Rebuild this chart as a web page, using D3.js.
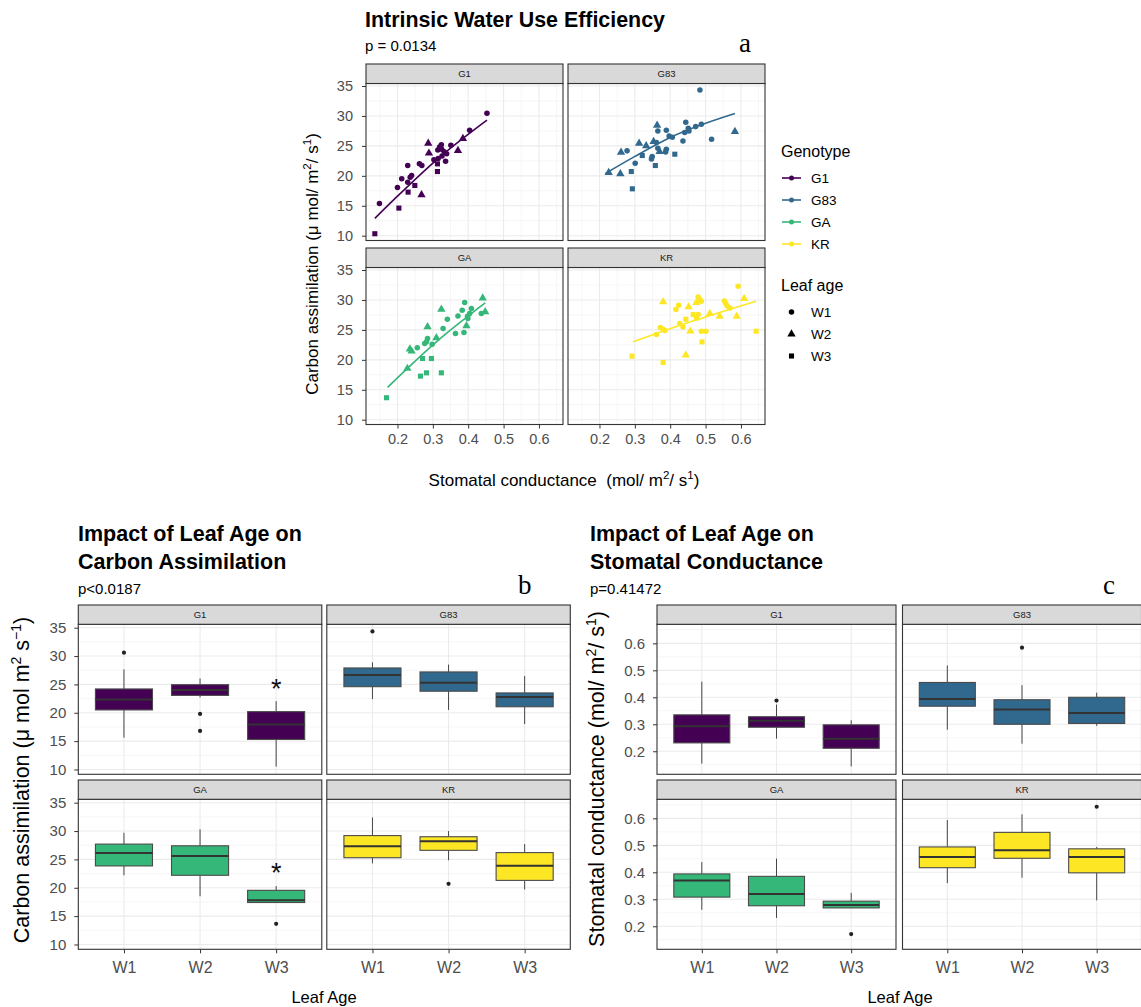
<!DOCTYPE html>
<html>
<head>
<meta charset="utf-8">
<script src="https://cdn.jsdelivr.net/npm/d3@7"></script>
<style>
  body { margin: 0; background: #fff; }
  text { font-family: "Liberation Sans", Arial, sans-serif; }
</style>
</head>
<body>
<script>
// ---- data ----
const genotypes = ["G1", "G83", "GA", "KR"];
const genoColors = ["#440154", "#31688E", "#35B779", "#FDE725"];
const leafAges = ["W1", "W2", "W3"];

// panel a : [stomatal conductance, carbon assimilation, leaf age]
const scatterG1 = [
  [0.453, 30.44, "W1"], [0.404, 27.61, "W1"], [0.351, 25.11, "W1"], [0.324, 25.17, "W1"],
  [0.319, 24.83, "W1"], [0.314, 24.33, "W1"], [0.325, 24.44, "W1"], [0.332, 24.0, "W1"],
  [0.339, 23.67, "W1"], [0.326, 23.33, "W1"], [0.315, 22.89, "W1"], [0.336, 22.44, "W1"],
  [0.269, 21.72, "W1"], [0.262, 22.0, "W1"], [0.229, 21.72, "W1"], [0.24, 20.06, "W1"],
  [0.236, 19.78, "W1"], [0.212, 19.5, "W1"], [0.229, 18.94, "W1"], [0.2, 18.06, "W1"],
  [0.149, 15.39, "W1"], [0.303, 22.67, "W1"],
  [0.287, 25.44, "W2"], [0.289, 23.78, "W2"], [0.385, 26.22, "W2"], [0.371, 24.22, "W2"],
  [0.268, 16.83, "W2"],
  [0.136, 10.33, "W3"], [0.204, 14.61, "W3"], [0.23, 17.28, "W3"], [0.249, 18.39, "W3"],
  [0.313, 20.72, "W3"], [0.313, 22.0, "W3"]
];
const scatterG83 = [
  [0.484, 34.33, "W1"], [0.444, 28.94, "W1"], [0.488, 28.61, "W1"], [0.472, 28.22, "W1"],
  [0.451, 27.94, "W1"], [0.453, 27.5, "W1"], [0.441, 27.22, "W1"], [0.365, 27.5, "W1"],
  [0.389, 27.61, "W1"], [0.397, 26.67, "W1"], [0.406, 26.44, "W1"], [0.361, 25.56, "W1"],
  [0.436, 25.83, "W1"], [0.517, 26.11, "W1"], [0.365, 24.61, "W1"], [0.389, 24.44, "W1"],
  [0.387, 24.0, "W1"], [0.349, 23.22, "W1"], [0.347, 22.83, "W1"], [0.278, 24.17, "W1"],
  [0.301, 22.11, "W1"],
  [0.363, 28.44, "W2"], [0.312, 25.44, "W2"], [0.332, 25.0, "W2"], [0.261, 23.94, "W2"],
  [0.353, 25.72, "W2"], [0.37, 24.06, "W2"], [0.226, 20.56, "W2"], [0.259, 20.33, "W2"],
  [0.583, 27.39, "W2"],
  [0.321, 23.39, "W3"], [0.413, 23.61, "W3"], [0.358, 21.72, "W3"], [0.29, 20.72, "W3"],
  [0.293, 17.83, "W3"]
];
const scatterGA = [
  [0.39, 29.56, "W1"], [0.409, 28.56, "W1"], [0.383, 28.28, "W1"], [0.371, 27.33, "W1"],
  [0.341, 26.78, "W1"], [0.398, 27.28, "W1"], [0.404, 27.72, "W1"], [0.399, 26.89, "W1"],
  [0.329, 25.22, "W1"], [0.388, 24.56, "W1"], [0.364, 24.39, "W1"], [0.285, 23.56, "W1"],
  [0.282, 23.0, "W1"], [0.277, 22.72, "W1"], [0.298, 22.61, "W1"], [0.256, 22.0, "W1"],
  [0.437, 27.72, "W1"],
  [0.441, 30.33, "W2"], [0.324, 28.44, "W2"], [0.285, 25.5, "W2"], [0.31, 23.67, "W2"],
  [0.235, 21.78, "W2"], [0.24, 21.44, "W2"], [0.228, 18.56, "W2"], [0.395, 25.67, "W2"],
  [0.448, 28.0, "W2"],
  [0.169, 13.67, "W3"], [0.265, 17.28, "W3"], [0.282, 17.83, "W3"], [0.324, 17.83, "W3"],
  [0.271, 20.22, "W3"], [0.296, 20.22, "W3"]
];
const scatterKR = [
  [0.592, 32.28, "W1"], [0.479, 30.5, "W1"], [0.484, 30.06, "W1"], [0.488, 29.78, "W1"],
  [0.553, 29.83, "W1"], [0.557, 29.39, "W1"], [0.561, 29.0, "W1"], [0.569, 28.67, "W1"],
  [0.424, 29.11, "W1"], [0.416, 28.39, "W1"], [0.479, 27.56, "W1"], [0.427, 26.06, "W1"],
  [0.436, 25.5, "W1"], [0.372, 25.39, "W1"], [0.38, 25.11, "W1"], [0.385, 24.89, "W1"],
  [0.361, 24.22, "W1"], [0.488, 24.78, "W1"], [0.501, 24.78, "W1"],
  [0.38, 29.67, "W2"], [0.452, 28.83, "W2"], [0.474, 29.56, "W2"], [0.609, 30.22, "W2"],
  [0.512, 27.72, "W2"], [0.54, 27.28, "W2"], [0.588, 27.28, "W2"], [0.457, 24.78, "W2"],
  [0.444, 20.78, "W2"],
  [0.465, 27.56, "W3"], [0.474, 27.0, "W3"], [0.444, 26.78, "W3"], [0.643, 24.78, "W3"],
  [0.49, 23.0, "W3"], [0.292, 20.61, "W3"], [0.38, 19.56, "W3"]
];
// smoothed fit
const fitG1 = [[0.136, 12.9], [0.2, 16.6], [0.313, 22.8], [0.453, 29.3]];
const fitG83 = [[0.217, 20.4], [0.299, 23.2], [0.4, 26.4], [0.583, 30.4]];
const fitGA = [[0.172, 15.4], [0.31, 23.0], [0.448, 29.5]];
const fitKR = [[0.295, 23.0], [0.47, 26.6], [0.643, 29.8]];

// panel b : carbon assimilation boxes [low whisker, q1, median, q3, high whisker]
const assimG1 = [[15.6, 20.5, 22.35, 24.2, 27.65], [22.7, 23.06, 24.0, 24.95, 26.05], [10.5, 15.3, 17.94, 20.2, 22.06]];
const assimG83 = [[22.4, 24.6, 26.65, 27.9, 28.9], [20.5, 23.8, 25.3, 27.2, 28.5], [18.0, 21.06, 22.8, 23.5, 26.5]];
const assimGA = [[22.2, 23.85, 26.15, 27.7, 29.7], [18.5, 22.2, 25.6, 27.4, 30.3], [17.4, 17.4, 17.8, 19.55, 20.3]];
const assimKR = [[24.3, 25.3, 27.3, 29.2, 32.4], [24.85, 26.6, 28.2, 29.0, 30.0], [19.7, 21.3, 23.9, 26.2, 27.7]];
// [genotype, leaf age, value]
const assimOutliers = [["G1", "W1", 30.6], ["G1", "W2", 19.8], ["G1", "W2", 16.8], ["G83", "W1", 34.35], ["GA", "W3", 13.65], ["KR", "W2", 20.7]];
const assimStars = [["G1", "W3", 25.06], ["GA", "W3", 23.4]];

// panel c : stomatal conductance boxes
const condG1 = [[0.154, 0.231, 0.293, 0.335, 0.458], [0.247, 0.289, 0.313, 0.328, 0.373], [0.144, 0.211, 0.246, 0.298, 0.315]];
const condG83 = [[0.28, 0.367, 0.394, 0.455, 0.518], [0.228, 0.30, 0.355, 0.391, 0.445], [0.294, 0.303, 0.342, 0.40, 0.417]];
const condGA = [[0.261, 0.308, 0.370, 0.394, 0.438], [0.231, 0.276, 0.320, 0.385, 0.451], [0.268, 0.268, 0.279, 0.293, 0.324]];
const condKR = [[0.36, 0.417, 0.457, 0.494, 0.594], [0.38, 0.452, 0.482, 0.548, 0.615], [0.296, 0.398, 0.457, 0.487, 0.494]];
const condOutliers = [["G1", "W2", 0.388], ["G83", "W2", 0.584], ["GA", "W3", 0.171], ["KR", "W3", 0.643]];

const scatterSets = [scatterG1, scatterG83, scatterGA, scatterKR];
const fitSets = [fitG1, fitG83, fitGA, fitKR];
const assimSets = [assimG1, assimG83, assimGA, assimKR];
const condSets = [condG1, condG83, condGA, condKR];

// ---- drawing ----
const svg = d3.select("body").append("svg").attr("width", 1141).attr("height", 1007);

const shapes = { W1: d3.symbolCircle, W2: d3.symbolTriangle, W3: d3.symbolSquare };
const shapeSize = { W1: 24, W2: 30, W3: 26 };

function drawPanel(o) {
  // o: left, top, w, stripH, plotH, name, x, y, ticks, which axes to show
  const g = svg.append("g");
  const py = o.top + o.stripH;
  const grid = g.append("g"), data = g.append("g"), frame = g.append("g");
  grid.append("rect").attr("x", o.left).attr("y", py).attr("width", o.w).attr("height", o.plotH).attr("fill", "#fff");
  grid.selectAll(null).data(o.yMinor).enter().append("line")
    .attr("x1", o.left).attr("x2", o.left + o.w).attr("y1", d => o.y(d)).attr("y2", d => o.y(d))
    .attr("stroke", "#F2F2F2").attr("stroke-width", 0.7);
  grid.selectAll(null).data(o.xMinor).enter().append("line")
    .attr("y1", py).attr("y2", py + o.plotH).attr("x1", d => o.x(d)).attr("x2", d => o.x(d))
    .attr("stroke", "#F2F2F2").attr("stroke-width", 0.7);
  grid.selectAll(null).data(o.yTicks).enter().append("line")
    .attr("x1", o.left).attr("x2", o.left + o.w).attr("y1", d => o.y(d)).attr("y2", d => o.y(d))
    .attr("stroke", "#EBEBEB").attr("stroke-width", 1.1);
  grid.selectAll(null).data(o.xTicks).enter().append("line")
    .attr("y1", py).attr("y2", py + o.plotH).attr("x1", d => o.x(d)).attr("x2", d => o.x(d))
    .attr("stroke", "#EBEBEB").attr("stroke-width", 1.1);

  frame.append("rect").attr("x", o.left).attr("y", py).attr("width", o.w).attr("height", o.plotH)
    .attr("fill", "none").attr("stroke", "#333").attr("stroke-width", 1.1);
  frame.append("rect").attr("x", o.left).attr("y", o.top).attr("width", o.w).attr("height", o.stripH)
    .attr("fill", "#D9D9D9").attr("stroke", "#333").attr("stroke-width", 1.1);
  frame.append("text").attr("x", o.left + o.w / 2).attr("y", o.top + o.stripH / 2).attr("dy", "0.35em")
    .attr("text-anchor", "middle").attr("font-size", 9.5).attr("fill", "#1A1A1A").text(o.name);

  if (o.showY) {
    const ax = frame.append("g").attr("transform", `translate(${o.left},0)`)
      .call(d3.axisLeft(o.y).tickValues(o.yTicks).tickSize(4).tickPadding(o.yPad).tickFormat(o.yFmt));
    styleAxis(ax, o.tickFont);
  }
  if (o.showX) {
    const ax = frame.append("g").attr("transform", `translate(0,${py + o.plotH})`)
      .call(d3.axisBottom(o.x).tickValues(o.xTicks).tickSize(4).tickPadding(o.xPad).tickFormat(o.xFmt));
    styleAxis(ax, o.xFont || o.tickFont);
  }
  return data;
}

function styleAxis(ax, size) {
  ax.select(".domain").remove();
  ax.selectAll("line").attr("stroke", "#333").attr("stroke-width", 1);
  ax.selectAll("text").attr("font-family", "Liberation Sans, Arial, sans-serif")
    .attr("font-size", size).attr("fill", "#4D4D4D");
}

function supLabel(parent, parts, supSize, shift) {
  // parts: [text, isSuper]
  parts.forEach(([s, sup], i) => {
    const prevSup = i > 0 && parts[i - 1][1];
    const ts = parent.append("tspan").text(s);
    if (sup) ts.attr("dy", -shift).attr("font-size", supSize);
    else if (prevSup) ts.attr("dy", shift);
  });
}

// ===== panel a =====
const aCols = [366, 568], aW = 197, aTops = [64, 248], aStrip = 19.5, aPlotH = 157;
const aXTicks = [0.2, 0.3, 0.4, 0.5, 0.6], aXMinor = [0.15, 0.25, 0.35, 0.45, 0.55, 0.65];
const aYTicks = [10, 15, 20, 25, 30, 35], aYMinor = [12.5, 17.5, 22.5, 27.5, 32.5];

genotypes.forEach((gname, i) => {
  const col = i % 2, row = Math.floor(i / 2);
  const left = aCols[col], top = aTops[row];
  const x = d3.scaleLinear().domain([0.111, 0.668]).range([left, left + aW]);
  const y = d3.scaleLinear().domain([9.2, 35.42]).range([top + aStrip + aPlotH, top + aStrip]);
  const layer = drawPanel({
    left, top, w: aW, stripH: aStrip, plotH: aPlotH, name: gname, x, y,
    xTicks: aXTicks, xMinor: aXMinor, yTicks: aYTicks, yMinor: aYMinor,
    showX: row === 1, showY: col === 0, xPad: 5, yPad: 9, tickFont: 14.5,
    xFmt: d3.format(".1f"), yFmt: d3.format("d")
  });
  layer.append("path").datum(fitSets[i])
    .attr("d", d3.line().x(d => x(d[0])).y(d => y(d[1])).curve(d3.curveMonotoneX))
    .attr("fill", "none").attr("stroke", genoColors[i]).attr("stroke-width", 1.6);
  layer.selectAll(null).data(scatterSets[i]).enter().append("path")
    .attr("transform", d => `translate(${x(d[0])},${y(d[1])})`)
    .attr("d", d => d3.symbol(shapes[d[2]], shapeSize[d[2]])())
    .attr("fill", genoColors[i]);
});

svg.append("text").attr("x", 365).attr("y", 27).attr("font-size", 21.4).attr("font-weight", "bold")
  .text("Intrinsic Water Use Efficiency");
svg.append("text").attr("x", 365).attr("y", 51).attr("font-size", 15).text("p = 0.0134");
svg.append("text").attr("x", 739).attr("y", 52).attr("font-size", 27)
  .style("font-family", "'Liberation Serif', 'Times New Roman', serif").text("a");

const aYTitle = svg.append("text").attr("transform", "translate(318,264) rotate(-90)")
  .attr("text-anchor", "middle").attr("font-size", 17);
supLabel(aYTitle, [["Carbon assimilation (\u03bc mol/ m", false], ["2", true], ["/ s", false], ["1", true], [")", false]], 11.5, 7);
const aXTitle = svg.append("text").attr("x", 564).attr("y", 486)
  .attr("text-anchor", "middle").attr("font-size", 17);
supLabel(aXTitle, [["Stomatal conductance\u00a0 (mol/ m", false], ["2", true], ["/ s", false], ["1", true], [")", false]], 11.5, 7);

// legend
const leg = svg.append("g");
leg.append("text").attr("x", 781).attr("y", 157).attr("font-size", 16).text("Genotype");
genotypes.forEach((gname, i) => {
  const cy = 178 + i * 22;
  leg.append("line").attr("x1", 782).attr("x2", 801).attr("y1", cy).attr("y2", cy)
    .attr("stroke", genoColors[i]).attr("stroke-width", 1.6);
  leg.append("circle").attr("cx", 791.5).attr("cy", cy).attr("r", 2.5).attr("fill", genoColors[i]);
  leg.append("text").attr("x", 811).attr("y", cy).attr("dy", "0.36em").attr("font-size", 13.5).text(gname);
});
leg.append("text").attr("x", 781).attr("y", 291).attr("font-size", 16).text("Leaf age");
leafAges.forEach((w, i) => {
  const cy = 312 + i * 22;
  leg.append("path").attr("transform", `translate(791.5,${cy})`)
    .attr("d", d3.symbol(shapes[w], shapeSize[w])()).attr("fill", "#000");
  leg.append("text").attr("x", 811).attr("y", cy).attr("dy", "0.36em").attr("font-size", 13.5).text(w);
});

// ===== box panels =====
function drawBoxFigure(cfg) {
  genotypes.forEach((gname, i) => {
    const col = i % 2, row = Math.floor(i / 2);
    const left = cfg.cols[col], top = cfg.tops[row];
    const x = d3.scalePoint().domain(leafAges).range([left, left + cfg.w]).padding(0.6);
    const y = d3.scaleLinear().domain(cfg.yDomain).range([top + cfg.strip + cfg.plotH, top + cfg.strip]);
    const layer = drawPanel({
      left, top, w: cfg.w, stripH: cfg.strip, plotH: cfg.plotH, name: gname, x, y,
      xTicks: leafAges, xMinor: [], yTicks: cfg.yTicks, yMinor: cfg.yMinor,
      showX: row === 1, showY: col === 0, xPad: 8, yPad: 8, tickFont: 15, xFont: 16,
      xFmt: d => d, yFmt: cfg.yFmt
    });
    const bw = x.step() * 0.75;
    cfg.sets[i].forEach((s, j) => {
      const cx = x(leafAges[j]);
      layer.append("line").attr("x1", cx).attr("x2", cx).attr("y1", y(s[0])).attr("y2", y(s[1]))
        .attr("stroke", "#333").attr("stroke-width", 0.9);
      layer.append("line").attr("x1", cx).attr("x2", cx).attr("y1", y(s[3])).attr("y2", y(s[4]))
        .attr("stroke", "#333").attr("stroke-width", 0.9);
      layer.append("rect").attr("x", cx - bw / 2).attr("y", y(s[3])).attr("width", bw)
        .attr("height", y(s[1]) - y(s[3])).attr("fill", genoColors[i])
        .attr("stroke", "#4a4a4a").attr("stroke-width", 1.1);
      layer.append("line").attr("x1", cx - bw / 2).attr("x2", cx + bw / 2)
        .attr("y1", y(s[2])).attr("y2", y(s[2])).attr("stroke", "#333").attr("stroke-width", 2);
    });
    layer.selectAll(null).data(cfg.outliers.filter(d => d[0] === gname)).enter().append("circle")
      .attr("cx", d => x(d[1])).attr("cy", d => y(d[2])).attr("r", 2.1).attr("fill", "#222");
    layer.selectAll(null).data(cfg.stars.filter(d => d[0] === gname)).enter().append("text")
      .attr("x", d => x(d[1])).attr("y", d => y(d[2]) + 14).attr("text-anchor", "middle")
      .attr("font-size", 27).attr("fill", "#111").text("*");
  });
}

drawBoxFigure({
  cols: [78.3, 326.8], w: 243.5, tops: [605, 780], strip: 19.3, plotH: 150,
  yDomain: [9.15, 35.6], yTicks: [10, 15, 20, 25, 30, 35], yMinor: [12.5, 17.5, 22.5, 27.5, 32.5],
  yFmt: d3.format("d"), sets: assimSets, outliers: assimOutliers, stars: assimStars
});
drawBoxFigure({
  cols: [657, 902.5], w: 239, tops: [605, 780], strip: 19.3, plotH: 150,
  yDomain: [0.1146, 0.6706], yTicks: [0.2, 0.3, 0.4, 0.5, 0.6], yMinor: [0.15, 0.25, 0.35, 0.45, 0.55, 0.65],
  yFmt: d3.format(".1f"), sets: condSets, outliers: condOutliers, stars: []
});

// titles for b and c
const titleFont = 21.5;
svg.append("text").attr("x", 78).attr("y", 541).attr("font-size", titleFont).attr("font-weight", "bold").text("Impact of Leaf Age on");
svg.append("text").attr("x", 78).attr("y", 569).attr("font-size", titleFont).attr("font-weight", "bold").text("Carbon Assimilation");
svg.append("text").attr("x", 78).attr("y", 594).attr("font-size", 15).text("p<0.0187");
svg.append("text").attr("x", 518).attr("y", 594).attr("font-size", 27)
  .style("font-family", "'Liberation Serif', 'Times New Roman', serif").text("b");

svg.append("text").attr("x", 590).attr("y", 541).attr("font-size", titleFont).attr("font-weight", "bold").text("Impact of Leaf Age on");
svg.append("text").attr("x", 590).attr("y", 569).attr("font-size", titleFont).attr("font-weight", "bold").text("Stomatal Conductance");
svg.append("text").attr("x", 590).attr("y", 594).attr("font-size", 15).text("p=0.41472");
svg.append("text").attr("x", 1103).attr("y", 594).attr("font-size", 27)
  .style("font-family", "'Liberation Serif', 'Times New Roman', serif").text("c");

const bYTitle = svg.append("text").attr("transform", "translate(29,780) rotate(-90)")
  .attr("text-anchor", "middle").attr("font-size", 21.5);
supLabel(bYTitle, [["Carbon assimilation (\u03bc mol m", false], ["2", true], [" s", false], ["\u22121", true], [")", false]], 14, 8);
svg.append("text").attr("x", 324).attr("y", 1003).attr("text-anchor", "middle").attr("font-size", 16.5).text("Leaf Age");

const cYTitle = svg.append("text").attr("transform", "translate(604,779) rotate(-90)")
  .attr("text-anchor", "middle").attr("font-size", 21.5);
supLabel(cYTitle, [["Stomatal conductance (mol/ m", false], ["2", true], ["/ s", false], ["1", true], [")", false]], 14, 8);
svg.append("text").attr("x", 900).attr("y", 1003).attr("text-anchor", "middle").attr("font-size", 16.5).text("Leaf Age");
</script>
</body>
</html>
